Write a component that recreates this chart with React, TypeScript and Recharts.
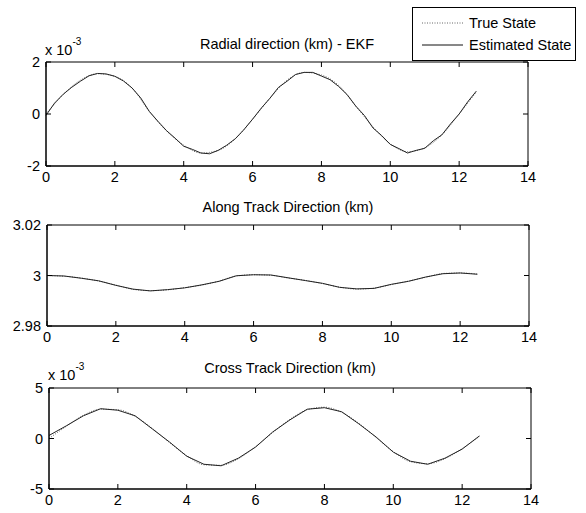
import { LineChart, Line, XAxis, YAxis, Legend } from "recharts"

const FONT = "'Liberation Sans', Arial, Helvetica, sans-serif"
const FS = 14.5

const xTicks = [0, 2, 4, 6, 8, 10, 12, 14]

// sample positions (along-track distance axis)
const xHalf = [0, 0.5, 1, 1.5, 2, 2.5, 3, 3.5, 4, 4.5, 5, 5.5, 6, 6.5, 7, 7.5, 8, 8.5, 9, 9.5, 10, 10.5, 11, 11.5, 12, 12.5]
const xQuarter = [
  0, 0.25, 0.5, 0.75, 1, 1.25, 1.5, 1.75, 2, 2.25, 2.5, 2.75, 3, 3.25, 3.5, 3.75, 4, 4.25, 4.5, 4.75,
  5, 5.25, 5.5, 5.75, 6, 6.25, 6.5, 6.75, 7, 7.25, 7.5, 7.75, 8, 8.25, 8.5, 8.75, 9, 9.25, 9.5, 9.75,
  10, 10.25, 10.5, 10.75, 11, 11.25, 11.5, 11.75, 12, 12.25, 12.5,
]

// radial (x 10^-3 km)
const radialTrue = [0, 0.75, 1.3, 1.55, 1.45, 1.0, 0.1, -0.65, -1.2, -1.5, -1.4, -0.95, -0.2, 0.6, 1.3, 1.6, 1.5, 1.1, 0.3, -0.5, -1.15, -1.45, -1.3, -0.8, 0.0, 0.85]
const radialEst = [
  -0.05, 0.42, 0.76, 1.03, 1.26, 1.47, 1.56, 1.54, 1.45, 1.27, 1.0, 0.62, 0.1, -0.28, -0.64, -0.93, -1.24, -1.36, -1.5, -1.53,
  -1.4, -1.2, -0.95, -0.6, -0.2, 0.22, 0.6, 1.02, 1.26, 1.52, 1.6, 1.6, 1.46, 1.32, 1.06, 0.74, 0.3, -0.06, -0.54, -0.83,
  -1.17, -1.33, -1.5, -1.4, -1.32, -1.03, -0.8, -0.38, 0.0, 0.47, 0.88,
]

// along track (km)
const alongTrue = [3.0, 2.9997, 2.999, 2.9978, 2.9962, 2.9945, 2.994, 2.9943, 2.9952, 2.9962, 2.9978, 2.9998, 3.0003, 3.0001, 2.999, 2.9981, 2.9968, 2.9954, 2.9946, 2.995, 2.9964, 2.9978, 2.9993, 3.0008, 3.001, 3.0006]
const alongEst = [3.0, 2.9998, 2.9989, 2.9979, 2.9961, 2.9946, 2.9939, 2.9944, 2.9951, 2.9963, 2.9977, 2.9999, 3.0003, 3.0002, 2.9991, 2.998, 2.9969, 2.9953, 2.9947, 2.9949, 2.9965, 2.9977, 2.9994, 3.0007, 3.001, 3.0005]

// cross track (x 10^-3 km)
const crossTrue = [0, 1.2, 2.3, 2.9, 2.85, 2.2, 1.0, -0.4, -1.7, -2.6, -2.65, -2.0, -0.8, 0.6, 1.9, 2.85, 3.1, 2.6, 1.5, 0.1, -1.3, -2.3, -2.5, -2.0, -1.0, 0.2]
const crossEst = [0.3, 1.25, 2.25, 2.95, 2.8, 2.25, 0.95, -0.35, -1.75, -2.55, -2.7, -1.95, -0.85, 0.65, 1.85, 2.9, 3.05, 2.65, 1.45, 0.15, -1.35, -2.25, -2.55, -1.95, -1.05, 0.25]

const radialTicks = [-2, 0, 2]
const alongTicks = [2.98, 3, 3.02]
const crossTicks = [-5, 0, 5]

const legendOrder = ["True State", "Estimated State"]

const rows = (xs: number[], ys: number[]) => xs.map((x, i) => ({ x, y: ys[i] }))
const blank = () => ""

function LegendBox({ payload }: any) {
  const items = (payload || [])
    .filter((p: any) => legendOrder.includes(p.value))
    .sort((a: any, b: any) => legendOrder.indexOf(a.value) - legendOrder.indexOf(b.value))
  return (
    <div style={{ border: "1px solid #000", background: "#fff", width: 164, height: 54, boxSizing: "border-box", paddingTop: 4, fontFamily: FONT, fontSize: FS }}>
      {items.map((p: any) => (
        <div key={p.value} style={{ display: "flex", alignItems: "center", height: 22 }}>
          <svg width={56} height={10}>
            <line x1={9} x2={50} y1={5} y2={5} stroke={p.value === "True State" ? "#666" : "#111"} strokeDasharray={p.value === "True State" ? "1 1.5" : undefined} />
          </svg>
          <span style={{ color: "#000" }}>{p.value}</span>
        </div>
      ))}
    </div>
  )
}

type PanelProps = {
  top: number
  height: number
  margin: { top: number; right: number; bottom: number; left: number }
  domain: [number, number]
  ticks: number[]
  truth: { x: number; y: number }[]
  est: { x: number; y: number }[]
  legend?: boolean
}

function Panel({ top, height, margin, domain, ticks, truth, est, legend }: PanelProps) {
  const tick = { fill: "#000", fontSize: FS, fontFamily: FONT }
  return (
    <div style={{ position: "absolute", left: 0, top }}>
      <LineChart width={586} height={height} margin={margin}>
        {/* labelled axes */}
        <XAxis xAxisId="b" dataKey="x" type="number" domain={[0, 14]} ticks={xTicks} allowDuplicatedCategory={false}
          height={20} tickSize={0} tickMargin={6} tickLine={false} tick={tick} stroke="#000" interval={0} />
        <YAxis yAxisId="l" type="number" domain={domain} ticks={ticks} width={40} tickSize={0} tickMargin={6} tickLine={false}
          tick={tick} stroke="#000" interval={0} />
        {/* inward tick marks on all four sides (mirrored, take no space) */}
        <XAxis xAxisId="bm" orientation="bottom" mirror dataKey="x" type="number" domain={[0, 14]} ticks={xTicks} allowDuplicatedCategory={false}
          height={1} tickSize={5} tickFormatter={blank} stroke="#000" interval={0} />
        <XAxis xAxisId="tm" orientation="top" mirror dataKey="x" type="number" domain={[0, 14]} ticks={xTicks} allowDuplicatedCategory={false}
          height={1} tickSize={5} tickFormatter={blank} stroke="#000" interval={0} />
        <YAxis yAxisId="lm" orientation="left" mirror type="number" domain={domain} ticks={ticks} width={1} tickSize={5}
          tickFormatter={blank} stroke="#000" interval={0} />
        <YAxis yAxisId="rm" orientation="right" mirror type="number" domain={domain} ticks={ticks} width={1} tickSize={5}
          tickFormatter={blank} stroke="#000" interval={0} />
        {/* invisible series that bind the tick-only axes */}
        <Line xAxisId="bm" yAxisId="lm" data={truth} dataKey="y" name="bind-a" stroke="none" legendType="none" dot={false} activeDot={false} isAnimationActive={false} />
        <Line xAxisId="tm" yAxisId="rm" data={truth} dataKey="y" name="bind-b" stroke="none" legendType="none" dot={false} activeDot={false} isAnimationActive={false} />
        <Line xAxisId="b" yAxisId="l" data={truth} dataKey="y" name="True State" type="monotone" stroke="#666" strokeWidth={1} strokeDasharray="1 1.5" dot={false} isAnimationActive={false} />
        <Line xAxisId="b" yAxisId="l" data={est} dataKey="y" name="Estimated State" type="linear" stroke="#222" strokeWidth={1} dot={false} isAnimationActive={false} />
        {legend && (
          <Legend layout="vertical" align="center" verticalAlign="middle" content={<LegendBox />}
            wrapperStyle={{ position: "absolute", left: 412, top: 7, width: 164, height: 54 }} />
        )}
      </LineChart>
    </div>
  )
}

function Title({ left, width, y, text }: { left: number; width: number; y: number; text: string }) {
  return (
    <div style={{ position: "absolute", left, width, top: y - FS / 2, lineHeight: 1, textAlign: "center", fontFamily: FONT, fontSize: FS, color: "#000" }}>
      {text}
    </div>
  )
}

function Exponent({ left, baseline }: { left: number; baseline: number }) {
  return (
    <div style={{ position: "absolute", left, top: baseline - 12, lineHeight: 1, fontFamily: FONT, fontSize: FS, color: "#000", whiteSpace: "nowrap" }}>
      x 10<sup style={{ fontSize: 10, verticalAlign: "top", position: "relative", top: -6 }}>-3</sup>
    </div>
  )
}

export default function App() {
  return (
    <div style={{ position: "absolute", left: 0, top: 0, width: 586, height: 513, background: "#fff", overflow: "hidden" }}>
      <Panel top={0} height={190} margin={{ top: 62, right: 58, bottom: 4, left: 6 }} domain={[-2, 2]} ticks={radialTicks}
        truth={rows(xHalf, radialTrue)} est={rows(xQuarter, radialEst)} legend />
      <Panel top={190} height={160} margin={{ top: 35, right: 57, bottom: 4, left: 7 }} domain={[2.98, 3.02]} ticks={alongTicks}
        truth={rows(xHalf, alongTrue)} est={rows(xHalf, alongEst)} />
      <Panel top={350} height={163} margin={{ top: 38, right: 55, bottom: 4, left: 9 }} domain={[-5, 5]} ticks={crossTicks}
        truth={rows(xHalf, crossTrue)} est={rows(xHalf, crossEst)} />
      <Title left={46} width={482} y={44} text="Radial direction (km) - EKF" />
      <Title left={47} width={482} y={207} text="Along Track Direction (km)" />
      <Title left={49} width={482} y={368} text="Cross Track Direction (km)" />
      <Exponent left={45} baseline={55} />
      <Exponent left={48} baseline={380} />
    </div>
  )
}
